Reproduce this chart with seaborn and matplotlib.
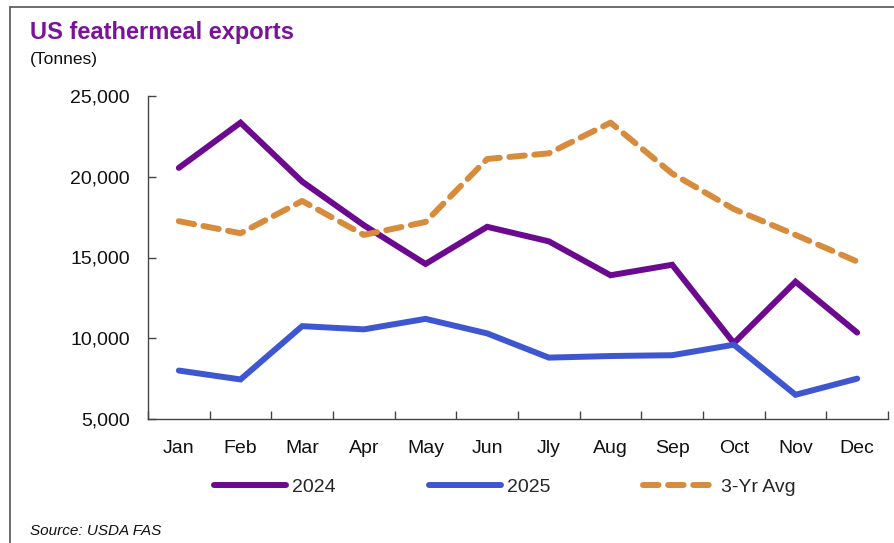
import matplotlib
matplotlib.use("Agg")
import matplotlib.pyplot as plt
from matplotlib.lines import Line2D
from matplotlib.ticker import FuncFormatter, FixedLocator
import seaborn as sns
import pandas as pd

months = ["Jan", "Feb", "Mar", "Apr", "May", "Jun", "Jly", "Aug", "Sep", "Oct", "Nov", "Dec"]
exports_2024 = [20550, 23350, 19700, 17000, 14600, 16900, 16000, 13900, 14550, 9700, 13500, 10350]
exports_2025 = [8000, 7450, 10750, 10550, 11200, 10300, 8800, 8900, 8950, 9600, 6500, 7500]
avg_3yr = [17250, 16500, 18500, 16400, 17200, 21100, 21450, 23350, 20200, 18000, 16400, 14750]
y_ticks = [5000, 10000, 15000, 20000, 25000]

series = [
    ("2024", exports_2024, "#6B0A8F", ""),
    ("2025", exports_2025, "#3F56D1", ""),
    ("3-Yr Avg", avg_3yr, "#D68C3C", (2.6, 1.6)),
]

sns.set_theme(style="white")
plt.rcParams["font.family"] = ["Liberation Sans", "DejaVu Sans"]

fig = plt.figure(figsize=(8.95, 5.43), dpi=100)
ax = fig.add_axes([148 / 895, 1 - 419 / 543, 740 / 895, 323 / 543])

frames = []
for name, vals, _, _ in series:
    frames.append(pd.DataFrame({"month": months, "tonnes": vals, "series": name}))
df = pd.concat(frames, ignore_index=True)

for name, vals, color, dash in series:
    sub = df[df["series"] == name]
    sns.lineplot(data=sub, x="month", y="tonnes", ax=ax, color=color,
                 linewidth=4.3, sort=False, label=name, legend=False)
    ln = ax.lines[-1]
    ln.set_solid_capstyle("round")
    ln.set_dash_capstyle("round")
    ln.set_solid_joinstyle("miter")
    if dash:
        ln.set_dashes(dash)

ax.set_xlim(-0.5, 11.5)
ax.set_ylim(5000, 25000)
ax.set_yticks(y_ticks)
ax.yaxis.set_major_formatter(FuncFormatter(lambda v, p: f"{int(v):,}"))
ax.set_xlabel("")
ax.set_ylabel("")

# category boundaries carry the x tick marks, labels sit at the centres
ax.xaxis.set_minor_locator(FixedLocator([i - 0.5 for i in range(13)]))
ax.tick_params(axis="x", which="major", length=0, pad=15, labelsize=14, colors="#111111")
ax.tick_params(axis="x", which="minor", direction="in", length=6, width=1.0, color="#444444", bottom=True)
ax.tick_params(axis="y", which="major", direction="in", length=6, width=1.0, color="#444444",
               pad=13, labelsize=14, labelcolor="#111111", left=True)

for side in ("top", "right"):
    ax.spines[side].set_visible(False)
for side in ("left", "bottom"):
    ax.spines[side].set_color("#444444")
    ax.spines[side].set_linewidth(1.0)

fig.text(30 / 895, 1 - 33 / 543, "US feathermeal exports", fontsize=17, fontweight="bold",
         color="#7B1399", va="center", ha="left")
fig.text(30 / 895, 1 - 60 / 543, "(Tonnes)", fontsize=12.5, color="#111111", va="center", ha="left")
fig.text(30 / 895, 1 - 531 / 543, "Source: USDA FAS", fontsize=11, style="italic",
         color="#111111", va="center", ha="left")

handles = [Line2D([0], [0], color=c, linewidth=4.3, solid_capstyle="round",
                  dash_capstyle="round", **({"dashes": d} if d else {}))
           for _, _, c, d in series]
fig.legend(handles, [s[0] for s in series], loc="center", ncol=3, frameon=False,
           bbox_to_anchor=(505 / 895, 1 - 487 / 543), fontsize=14, handlelength=3.7,
           handletextpad=0.3, columnspacing=4.8)

# outer frame: top and left edges
fig.add_artist(Line2D([10 / 895, 1.0], [1 - 7 / 543, 1 - 7 / 543], transform=fig.transFigure,
                      color="#555555", linewidth=1.2))
fig.add_artist(Line2D([10 / 895, 10 / 895], [0.0, 1 - 7 / 543], transform=fig.transFigure,
                      color="#555555", linewidth=1.2))

fig.savefig("out.png", dpi=100)
